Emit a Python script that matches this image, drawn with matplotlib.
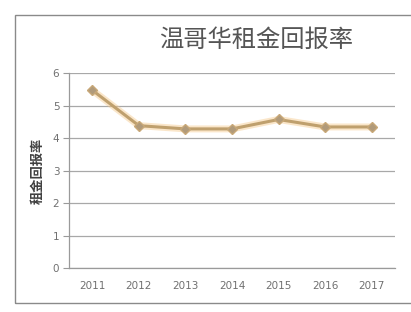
import numpy as np
import matplotlib.pyplot as plt
from matplotlib.patches import Rectangle

plt.rcParams['font.family'] = ['Noto Sans CJK SC', 'DejaVu Sans']

# Data to plot
years = ['2011', '2012', '2013', '2014', '2015', '2016', '2017']
rent_yield = [5.47, 4.38, 4.28, 4.28, 4.57, 4.34, 4.34]

fig = plt.figure(figsize=(4.11, 3.12), dpi=100)
ax = fig.add_axes([0.168, 0.141, 0.793, 0.625])

# outer chart frame (right side cut off in the original)
fig.patches.append(Rectangle((15 / 411, 1 - 303 / 312), 1.2, 288 / 312,
                             transform=fig.transFigure, fill=False,
                             edgecolor='#8a8a8a', linewidth=1.0))

x = np.arange(len(years))
# soft orange glow under the line
ax.plot(x, rent_yield, color='#f5c98a', linewidth=5, alpha=0.45,
        solid_capstyle='round', zorder=2)
ax.plot(x, rent_yield, color='#bfa06e', linewidth=2.2, marker='D',
        markersize=5, markerfacecolor='#b09a7a', markeredgecolor='#c8a878',
        zorder=3)

ax.set_xlim(-0.5, len(years) - 0.5)
ax.set_ylim(0, 6)
ax.set_yticks(range(0, 7))
ax.set_xticks(x)
ax.set_xticklabels(years)
ax.yaxis.grid(True, color='#a8a8a8', linewidth=0.9)
ax.set_axisbelow(True)

for side in ['top', 'right']:
    ax.spines[side].set_visible(False)
for side in ['left', 'bottom']:
    ax.spines[side].set_color('#9a9a9a')
    ax.spines[side].set_linewidth(0.9)

ax.tick_params(axis='y', colors='#9a9a9a', labelcolor='#707070',
               labelsize=7.5, length=4, width=0.8, pad=3)
ax.tick_params(axis='x', length=0, labelcolor='#707070', labelsize=7.5, pad=9)
for lab in ax.get_xticklabels() + ax.get_yticklabels():
    lab.set_family('DejaVu Sans')

ax.set_ylabel('租金回报率', fontsize=9.5, color='#404040', fontweight='bold',
              labelpad=6)
fig.text(0.623, 0.872, '温哥华租金回报率', fontsize=17.5, color='#555555',
         fontweight='medium', ha='center', va='center')

plt.savefig('out.png', dpi=100)
